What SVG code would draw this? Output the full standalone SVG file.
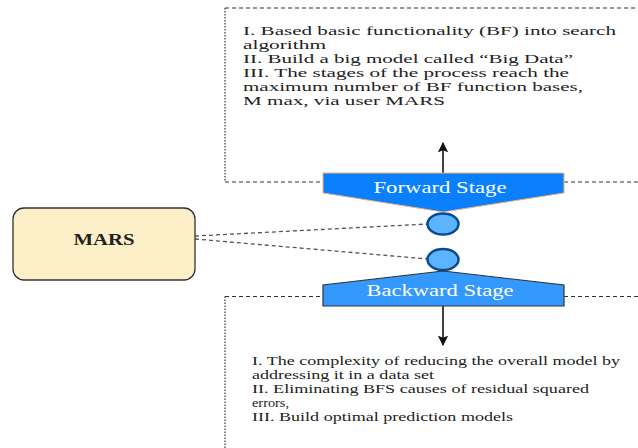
<svg xmlns="http://www.w3.org/2000/svg" width="638" height="448" viewBox="0 0 638 448">
<style>
.txt{font-size:13.5px;fill:#222}
.stage{font-size:16px;fill:#fff;text-anchor:middle}
.dash{fill:none;stroke:#333;stroke-width:1.2;stroke-dasharray:4,3}
.dot{fill:none;stroke:#333;stroke-width:1.2;stroke-dasharray:1.5,1.5}
.conn{fill:none;stroke:#555;stroke-width:1.3;stroke-dasharray:4,3}
.arrow{fill:none;stroke:#111;stroke-width:1.6}
.circ{fill:#5CB3FF;stroke:#0A4C8A;stroke-width:2.5}
</style>
<defs>
<marker id="ah" viewBox="0 0 10 10" refX="9" refY="5" markerWidth="6.5" markerHeight="6.5" orient="auto">
<path d="M0,0 L10,5 L0,10 L2,5 z" fill="#111"/>
</marker>
</defs>
<g id="forward-box" font-family="Liberation Serif, serif">
<path class="dash" d="M225,8 H638"/>
<path class="dot" d="M225,8 V182"/>
<path class="dash" d="M225,182 H323 M564,182 H638"/>
<text class="txt" x="243" y="35" textLength="373" lengthAdjust="spacingAndGlyphs">I. Based basic functionality (BF) into search</text>
<text class="txt" x="243" y="48.5" textLength="83" lengthAdjust="spacingAndGlyphs">algorithm</text>
<text class="txt" x="243" y="62.5" textLength="330" lengthAdjust="spacingAndGlyphs">II. Build a big model called “Big Data”</text>
<text class="txt" x="243" y="76.5" textLength="326" lengthAdjust="spacingAndGlyphs">III. The stages of the process reach the</text>
<text class="txt" x="243" y="90.5" textLength="340" lengthAdjust="spacingAndGlyphs">maximum number of BF function bases,</text>
<text class="txt" x="243" y="104.5" textLength="202" lengthAdjust="spacingAndGlyphs">M max, via user MARS</text>
</g>
<g id="backward-box" font-family="Liberation Serif, serif">
<path class="dash" d="M225,296.5 H323 M564,296.5 H638"/>
<path class="dot" d="M225,296.5 V448"/>
<text class="txt" x="252" y="364.5" textLength="368" lengthAdjust="spacingAndGlyphs">I. The complexity of reducing the overall model by</text>
<text class="txt" x="252" y="378.5" textLength="182" lengthAdjust="spacingAndGlyphs">addressing it in a data set</text>
<text class="txt" x="252" y="392.5" textLength="337" lengthAdjust="spacingAndGlyphs">II. Eliminating BFS causes of residual squared</text>
<text class="txt" x="252" y="406.5" textLength="37" lengthAdjust="spacingAndGlyphs">errors,</text>
<text class="txt" x="252" y="420.5" textLength="261" lengthAdjust="spacingAndGlyphs">III. Build optimal prediction models</text>
</g>
<g id="connectors">
<path class="conn" d="M195,236 L428,224"/>
<path class="conn" d="M195,239 L428,259"/>
<path class="arrow" d="M443,173 V143" marker-end="url(#ah)"/>
<path class="arrow" d="M443,306 V345" marker-end="url(#ah)"/>
</g>
<g id="mars">
<rect x="13" y="208" width="182" height="72" rx="11" fill="#FDF0C9" stroke="#333" stroke-width="1.3"/>
<text x="104" y="245" text-anchor="middle" font-family="Liberation Serif, serif" font-size="16" font-weight="bold" fill="#222" textLength="61" lengthAdjust="spacingAndGlyphs">MARS</text>
</g>
<g id="forward-stage" font-family="Liberation Serif, serif">
<path d="M323,173 H564 V193 L443,212 L323,193 Z" fill="#0A80FF" stroke="#F2B27A" stroke-width="1"/>
<text class="stage" x="440" y="193" textLength="133" lengthAdjust="spacingAndGlyphs">Forward Stage</text>
</g>
<g id="node-top">
<ellipse class="circ" cx="443" cy="224" rx="15.5" ry="10.5"/>
</g>
<g id="node-bottom">
<ellipse class="circ" cx="443" cy="259.5" rx="15.5" ry="10.5"/>
</g>
<g id="backward-stage" font-family="Liberation Serif, serif">
<path d="M443,271 L564,285 V306 H323 V285 Z" fill="#3399FF" stroke="#333" stroke-width="1.2"/>
<text class="stage" x="440" y="296" textLength="147" lengthAdjust="spacingAndGlyphs">Backward Stage</text>
</g>
</svg>
